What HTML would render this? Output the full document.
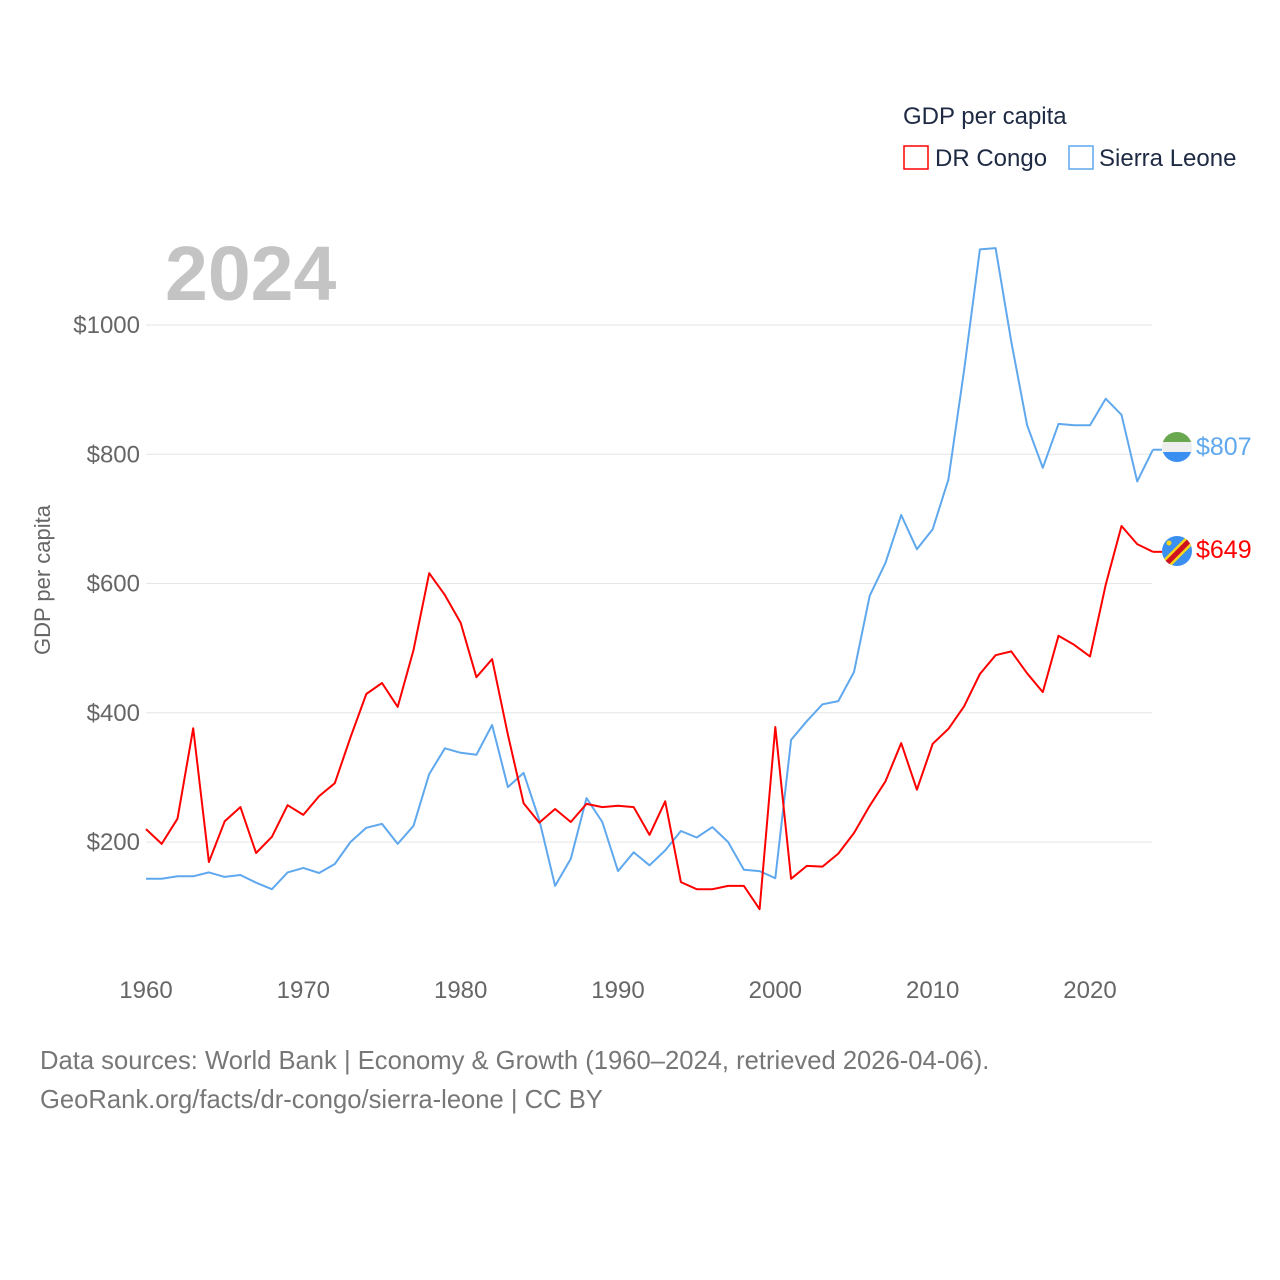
<!DOCTYPE html>
<html><head><meta charset="utf-8"><style>
body{margin:0;background:#fff;font-family:"Liberation Sans",sans-serif}
</style></head><body>
<svg id="chart" width="1280" height="1280" xmlns="http://www.w3.org/2000/svg" style="display:block">
<defs>
<clipPath id="c1"><circle cx="1177" cy="447" r="15"/></clipPath>
<clipPath id="c2"><circle cx="1177" cy="551" r="15"/></clipPath>
</defs>
<g id="grid"></g>
<g id="yticks"></g>
<g id="xticks"></g>
<text x="165" y="300" font-size="77" font-weight="bold" fill="#c4c4c4">2024</text>
<text transform="translate(50,580) rotate(-90)" text-anchor="middle" font-size="22" fill="#666">GDP per capita</text>
<g id="series"></g>
<g>
<text x="903" y="124" font-size="24" fill="#1e2a44">GDP per capita</text>
<rect x="904" y="146" width="24" height="23" fill="none" stroke="#f00" stroke-width="1.5"/>
<text x="935" y="166" font-size="24" fill="#1e2a44">DR Congo</text>
<rect x="1069" y="146" width="24" height="23" fill="none" stroke="#5fa8ee" stroke-width="1.5"/>
<text x="1099" y="166" font-size="24" fill="#1e2a44">Sierra Leone</text>
</g>
<g clip-path="url(#c1)">
<rect x="1160" y="430" width="34" height="12" fill="#6aa84f"/><rect x="1160" y="442" width="34" height="10" fill="#eee"/><rect x="1160" y="452" width="34" height="12" fill="#3b8ff0"/>
</g>
<g clip-path="url(#c2)">
<rect x="1160" y="534" width="34" height="34" fill="#3b8ff0"/>
<line x1="1160" y1="570" x2="1196" y2="534" stroke="#f7d618" stroke-width="10"/>
<line x1="1160" y1="570" x2="1196" y2="534" stroke="#ce1021" stroke-width="5"/>
<circle cx="1169" cy="543" r="2.5" fill="#f7d618"/>
</g>
<text x="1196" y="455" font-size="25" fill="#5fa8ee">$807</text>
<text x="1196" y="558" font-size="25" fill="#f00">$649</text>
<text x="40" y="1069" font-size="25.6" fill="#777">Data sources: World Bank | Economy &amp; Growth (1960–2024, retrieved 2026-04-06).</text>
<text x="40" y="1108" font-size="25.6" fill="#777">GeoRank.org/facts/dr-congo/sierra-leone | CC BY</text>
</svg>
<script>
const years=[];for(let y=1960;y<=2024;y++)years.push(y);
const drCongo=[220,197,236,376,169,232,254,183,208,257,242,271,291,362,429,446,409,497,616,582,539,455,483,366,260,230,251,231,259,254,256,254,211,263,138,127,127,132,132,96,378,143,163,162,182,214,256,294,353,281,352,375,410,460,489,495,461,432,519,505,487,598,689,661,649];
const sierraLeone=[143,143,147,147,153,146,149,137,127,153,160,152,166,200,222,228,197,225,305,345,338,335,381,285,307,234,132,174,268,231,155,184,164,187,217,207,223,200,157,155,144,358,387,413,418,463,581,632,706,653,684,761,930,1117,1119,974,845,779,847,845,845,886,861,758,807];
const yTicks=[200,400,600,800,1000];
const xTicks=[1960,1970,1980,1990,2000,2010,2020];
const NS="http://www.w3.org/2000/svg";
const xs=y=>146+(y-1960)*(944/60);
const ys=v=>971.25-v*0.64625;
function mk(t,a,p){const e=document.createElementNS(NS,t);for(const k in a)e.setAttribute(k,a[k]);p.appendChild(e);return e;}
const grid=document.getElementById('grid'),yt=document.getElementById('yticks'),xt=document.getElementById('xticks'),ser=document.getElementById('series');
yTicks.forEach(v=>{
 const l=mk('line',{x1:146,x2:1152,y1:ys(v),y2:ys(v),stroke:'#e6e6e6','stroke-width':1},grid);
 
 
 const t=mk('text',{x:140,y:ys(v)+8,'text-anchor':'end','font-size':24,fill:'#666'},yt);
 t.textContent='$'+v;
 
 
});
xTicks.forEach(v=>{
 const t=mk('text',{x:xs(v),y:998,'text-anchor':'middle','font-size':24,fill:'#666'},xt);
 t.textContent=v;
 
 
});
function line(data,col,name){
 const d=data.map((v,i)=>(i?'L':'M')+xs(years[i]).toFixed(1)+','+ys(v).toFixed(1)).join(' ');
 const p=mk('path',{d:d,fill:'none',stroke:col,'stroke-width':2,'stroke-linejoin':'round'},ser);
 
 
 const last=data[data.length-1];
 const c=mk('line',{x1:xs(2024),x2:1162,y1:ys(last),y2:ys(last),stroke:col,'stroke-width':2},ser);
 
 
}
line(sierraLeone,'#5fa8ee','line-sierra-leone');
line(drCongo,'#f00','line-dr-congo');
</script>
</body></html>
